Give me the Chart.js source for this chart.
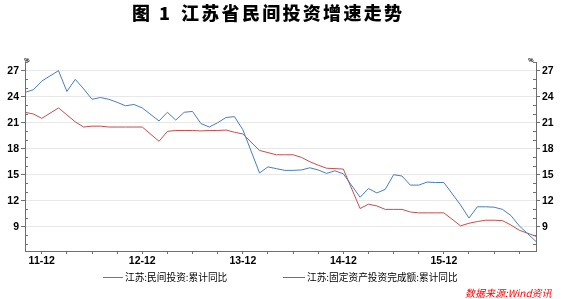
<!DOCTYPE html>
<html>
<head>
<meta charset="utf-8">
<script src="https://cdn.jsdelivr.net/npm/chart.js@4/dist/chart.umd.min.js"></script>
<style>
  html, body { margin: 0; padding: 0; background: #fff; }
  canvas { display: block; }
</style>
</head>
<body>
<canvas id="chart" width="562" height="299"></canvas>
<script>
// 月份（1月无累计数据）
const months = [
  '11-10', '11-11', '11-12',
  '12-01', '12-02', '12-03', '12-04', '12-05', '12-06', '12-07', '12-08', '12-09', '12-10', '12-11', '12-12',
  '13-01', '13-02', '13-03', '13-04', '13-05', '13-06', '13-07', '13-08', '13-09', '13-10', '13-11', '13-12',
  '14-01', '14-02', '14-03', '14-04', '14-05', '14-06', '14-07', '14-08', '14-09', '14-10', '14-11', '14-12',
  '15-01', '15-02', '15-03', '15-04', '15-05', '15-06', '15-07', '15-08', '15-09', '15-10', '15-11', '15-12',
  '16-01', '16-02', '16-03', '16-04', '16-05', '16-06', '16-07', '16-08', '16-09', '16-10', '16-11'
];

// 江苏:民间投资:累计同比
const privateInv = [
  24.5, 24.8, 25.8,
  null, 27.0, 24.6, 26.0, 24.9, 23.7, 23.9, 23.7, 23.35, 22.95, 23.1, 22.7,
  null, 21.2, 22.2, 21.3, 22.2, 22.3, 20.9, 20.5, 21.0, 21.6, 21.7, 20.2,
  null, 15.2, 15.9, 15.7, 15.5, 15.5, 15.55, 15.8, 15.55, 15.15, 15.45, 15.1,
  null, 12.4, 13.4, 12.9, 13.3, 15.0, 14.85, 13.8, 13.8, 14.15, 14.1, 14.1,
  null, 11.5, 10.0, 11.3, 11.3, 11.25, 11.0, 10.3, 9.1, 8.2, 7.3
];

// 江苏:固定资产投资完成额:累计同比
const fixedInv = [
  22.2, 22.0, 21.5,
  null, 22.7, 21.9, 21.1, 20.5, 20.6, 20.6, 20.5, 20.5, 20.5, 20.5, 20.5,
  null, 18.85, 20.0, 20.1, 20.1, 20.1, 20.05, 20.1, 20.1, 20.15, 19.9, 19.7,
  null, 17.8, 17.55, 17.3, 17.3, 17.3, 17.0, 16.5, 16.1, 15.75, 15.7, 15.65,
  null, 11.1, 11.6, 11.4, 11.0, 11.0, 11.0, 10.7, 10.6, 10.6, 10.6, 10.6,
  null, 9.1, 9.4, 9.6, 9.75, 9.75, 9.7, 9.2, 8.6, 8.25, 7.9
];

const titleHead = '图';
const titleNum = '1';
const titleText = '江苏省民间投资增速走势';
const seriesNames = ['江苏:民间投资:累计同比', '江苏:固定资产投资完成额:累计同比'];
const sourceText = '数据来源:Wind资讯';

const BLUE = '#4a7ebb';
const RED = '#c0504d';
const AXIS = '#6e6e6e';
const GRID = '#e8e8e8';

const decor = {
  id: 'decor',
  afterDraw(chart) {
    const c = chart.ctx;
    const area = chart.chartArea;
    c.save();

    // 次刻度（向内）
    c.strokeStyle = AXIS;
    c.lineWidth = 1;
    [['y', area.left, 3], ['y2', area.right, -3]].forEach(([id, x, d]) => {
      const s = chart.scales[id];
      for (let v = Math.ceil(s.min); v <= s.max; v++) {
        if (v % 3 === 0) continue;
        const y = Math.round(s.getPixelForValue(v)) + 0.5;
        c.beginPath();
        c.moveTo(x, y);
        c.lineTo(x + d, y);
        c.stroke();
      }
    });

    // 标题
    c.fillStyle = '#000';
    c.textBaseline = 'middle';
    c.textAlign = 'left';
    c.font = '900 18px "Noto Sans CJK SC"';
    c.fillText(titleHead, 132, 13);
    c.fillText(titleNum, 159, 13);
    [...titleText].forEach((ch, k) => c.fillText(ch, 181 + k * 20.3, 13));

    // 单位
    c.font = 'bold 6px "Liberation Sans"';
    c.textAlign = 'center';
    c.fillText('%', area.left + 2, 60);
    c.fillText('%', area.right - 5, 60);

    // 图例
    c.textAlign = 'left';
    c.font = '9.7px "Noto Sans CJK SC"';
    c.strokeStyle = BLUE;
    c.beginPath(); c.moveTo(103, 277.5); c.lineTo(123, 277.5); c.stroke();
    c.fillText(seriesNames[0], 125, 277);
    c.strokeStyle = RED;
    c.beginPath(); c.moveTo(283, 277.5); c.lineTo(305, 277.5); c.stroke();
    c.fillText(seriesNames[1], 307, 277);

    // 数据来源
    c.fillStyle = '#ff0000';
    c.font = 'italic 10px "Noto Sans CJK SC"';
    c.fillText(sourceText, 465, 293);
    c.restore();
  }
};

const yAxis = (pos) => ({
  type: 'linear',
  position: pos,
  min: 6.2,
  max: 28,
  ticks: {
    stepSize: 3,
    includeBounds: false,
    padding: 2,
    color: '#000',
    font: { family: 'Liberation Sans', size: 10.5, weight: 'bold' }
  },
  grid: {
    drawOnChartArea: pos === 'left',
    color: GRID,
    tickColor: AXIS,
    tickLength: 4
  },
  border: { display: true, color: AXIS },
  afterFit(scale) { scale.width = pos === 'left' ? 25 : 26; }
});

new Chart(document.getElementById('chart'), {
  type: 'line',
  data: {
    labels: months,
    datasets: [
      { label: seriesNames[0], data: privateInv, borderColor: BLUE, borderWidth: 1, pointRadius: 0, spanGaps: true, tension: 0, yAxisID: 'y' },
      { label: seriesNames[1], data: fixedInv, borderColor: RED, borderWidth: 1, pointRadius: 0, spanGaps: true, tension: 0, yAxisID: 'y' }
    ]
  },
  options: {
    responsive: false,
    animation: false,
    devicePixelRatio: 1,
    layout: { padding: { top: 62, left: 0, right: 0, bottom: 0 } },
    plugins: {
      legend: { display: false },
      title: { display: false },
      tooltip: { enabled: false }
    },
    scales: {
      x: {
        type: 'category',
        offset: false,
        ticks: {
          autoSkip: false,
          maxRotation: 0,
          padding: 1,
          color: '#000',
          font: { family: 'Liberation Sans', size: 10.5, weight: 'bold' },
          callback(val, idx) {
            if (idx % 3 !== 2) return null;
            return idx % 12 === 2 ? months[idx] : '';
          }
        },
        grid: { drawOnChartArea: false, tickColor: AXIS, tickLength: 3 },
        border: { display: true, color: AXIS },
        afterFit(scale) { scale.height = 48; }
      },
      y: yAxis('left'),
      y2: yAxis('right')
    }
  },
  plugins: [decor]
});
</script>
</body>
</html>
